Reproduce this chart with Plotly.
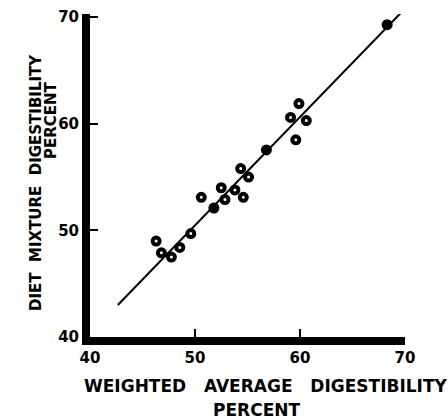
import plotly.graph_objects as go

# Data
x_open = [46.3, 46.8, 47.75, 48.55, 49.6, 50.6, 52.5, 52.85, 53.8, 54.6, 54.35, 55.1, 59.1, 59.9, 60.6, 59.6]
y_open = [49.0, 47.9, 47.5, 48.4, 49.7, 53.1, 54.0, 52.9, 53.8, 53.1, 55.8, 55.0, 60.6, 61.9, 60.3, 58.5]
x_filled = [51.8, 56.8, 68.3]
y_filled = [52.1, 57.55, 69.3]
x_line = [42.65, 69.8]
y_line = [43.0, 70.6]
tick_vals = [40, 50, 60, 70]
tick_text = ["40", "50", "60", "70"]

FONT = "DejaVu Sans"
NB = "\u00a0"

fig = go.Figure()
fig.add_trace(go.Scatter(x=x_line, y=y_line, mode="lines",
                         line=dict(color="black", width=2), showlegend=False))
fig.add_trace(go.Scatter(x=x_open, y=y_open, mode="markers",
                         marker=dict(symbol="circle", size=7, color="white",
                                     line=dict(color="black", width=4)),
                         showlegend=False, cliponaxis=False))
fig.add_trace(go.Scatter(x=x_filled, y=y_filled, mode="markers",
                         marker=dict(symbol="circle", size=11, color="black",
                                     line=dict(color="black", width=0)),
                         showlegend=False, cliponaxis=False))

axis_common = dict(
    automargin=False,
    showgrid=False, zeroline=False, showline=True, linecolor="black", linewidth=8,
    ticks="inside", ticklen=8, tickwidth=2, tickcolor="black",
    tickmode="array", tickvals=tick_vals, ticktext=tick_text,
    tickfont=dict(family=FONT, size=15, color="black", weight="bold"),
)

W, H = 448, 420
L, R, T, B = 90, 43, 14, 83
PW, PH = W - L - R, H - T - B

fig.update_layout(
    width=W, height=H,
    margin=dict(l=L, r=R, t=T, b=B, autoexpand=False),
    paper_bgcolor="white", plot_bgcolor="white",
    xaxis=dict(range=[40, 70], **axis_common),
    yaxis=dict(range=[40, 70.3], **axis_common),
    font=dict(family=FONT, color="black"),
    hovermode=False,
)


def px(xp):
    return (xp - L) / PW


def py(yp):
    return (H - B - yp) / PH


title_font = dict(family=FONT, size=17, color="black", weight="bold")
ytitle_font = dict(family=FONT, size=15, color="black", weight="bold")
fig.add_annotation(text="WEIGHTED" + NB * 3 + "AVERAGE" + NB * 3 + "DIGESTIBILITY",
                   xref="paper", yref="paper", x=px(265), y=py(386),
                   showarrow=False, font=title_font, xanchor="center", yanchor="middle")
fig.add_annotation(text="PERCENT",
                   xref="paper", yref="paper", x=px(256), y=py(410),
                   showarrow=False, font=title_font, xanchor="center", yanchor="middle")
fig.add_annotation(text="DIET" + NB * 2 + "MIXTURE" + NB * 2 + "DIGESTIBILITY",
                   xref="paper", yref="paper", x=px(36), y=py(183),
                   showarrow=False, font=ytitle_font, textangle=-90,
                   xanchor="center", yanchor="middle")
fig.add_annotation(text="PERCENT",
                   xref="paper", yref="paper", x=px(51), y=py(120),
                   showarrow=False, font=ytitle_font, textangle=-90,
                   xanchor="center", yanchor="middle")

fig.write_html(
    "out.html",
    config={"displayModeBar": False, "staticPlot": True},
    post_script="document.body.style.margin='0';document.body.style.overflow='hidden';",
)
